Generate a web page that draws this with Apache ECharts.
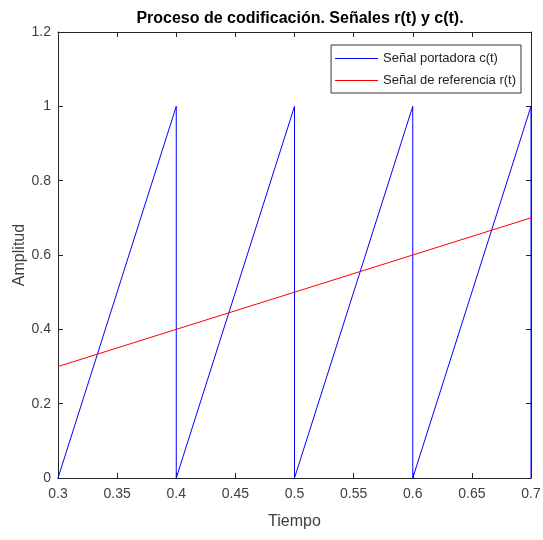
<!DOCTYPE html>
<html>
<head>
<meta charset="utf-8">
<script src="https://cdn.jsdelivr.net/npm/echarts@6/dist/echarts.min.js"></script>
<style>
html,body{margin:0;padding:0;background:#fff;}
#chart{width:543px;height:540px;}
</style>
</head>
<body>
<div id="chart"></div>
<script>
// Carrier sawtooth c(t): ramps 0 -> 1 each period of 0.1 s, then drops back to 0
const carrierT = [0.3, 0.4, 0.4, 0.5, 0.5, 0.6, 0.6, 0.7, 0.7];
const carrierV = [0, 1, 0, 1, 0, 1, 0, 1, 0];
// Reference ramp r(t)
const refT = [0.3, 0.7];
const refV = [0.3, 0.7];
// Axis tick labels
const xTicks = ['0.3', '0.35', '0.4', '0.45', '0.5', '0.55', '0.6', '0.65', '0.7'];
const yTicks = ['0', '0.2', '0.4', '0.6', '0.8', '1', '1.2'];

const seriesNames = ['Señal portadora c(t)', 'Señal de referencia r(t)'];
const font = 'Liberation Sans, Arial, sans-serif';
const labelColor = '#404040';
const axisColor = '#262626';

function pairs(t, v) { return t.map((x, i) => [x, v[i]]); }

const chart = echarts.init(document.getElementById('chart'), null, { renderer: 'canvas' });

const baseX = {
  type: 'value', min: 0.3, max: 0.7, interval: 0.05,
  axisLine: { show: true, onZero: false, lineStyle: { color: axisColor, width: 1 } },
  axisTick: { show: true, inside: true, length: 5, lineStyle: { color: axisColor } },
  splitLine: { show: false }
};
const baseY = {
  type: 'value', min: 0, max: 1.2, interval: 0.2,
  axisLine: { show: true, onZero: false, lineStyle: { color: axisColor, width: 1 } },
  axisTick: { show: true, inside: true, length: 5, lineStyle: { color: axisColor } },
  splitLine: { show: false }
};

chart.setOption({
  animation: false,
  backgroundColor: '#ffffff',
  title: {
    text: 'Proceso de codificación. Señales r(t) y c(t).',
    left: 295, top: 6, textAlign: 'center',
    textStyle: { fontFamily: font, fontSize: 16, fontWeight: 'bold', color: '#000' }
  },
  legend: {
    orient: 'vertical',
    right: 22, top: 45,
    padding: [7, 5, 6, 4],
    itemGap: 9,
    itemWidth: 43, itemHeight: 14,
    borderColor: '#333', borderWidth: 1,
    backgroundColor: '#fff',
    textStyle: { fontFamily: font, fontSize: 13, color: '#222' },
    data: seriesNames.map(n => ({ name: n, icon: 'path://M0,0 L43,0 L43,1 L0,1 Z' }))
  },
  grid: { left: 58, right: 12, top: 32, bottom: 62, containLabel: false, outerBoundsMode: 'none' },
  xAxis: [
    Object.assign({}, baseX, {
      position: 'bottom',
      name: 'Tiempo', nameLocation: 'middle', nameGap: 36, nameMoveOverlap: false,
      nameTextStyle: { fontFamily: font, fontSize: 16, color: labelColor },
      axisLabel: {
        margin: 9, fontFamily: font, fontSize: 14, color: labelColor,
        formatter: (v) => { const i = Math.round((v - 0.3) / 0.05); return xTicks[i] ?? ''; }
      }
    }),
    Object.assign({}, baseX, { position: 'top', axisLabel: { show: false } })
  ],
  yAxis: [
    Object.assign({}, baseY, {
      position: 'left',
      name: 'Amplitud', nameLocation: 'middle', nameGap: 30, nameMoveOverlap: false,
      nameTextStyle: { fontFamily: font, fontSize: 16, color: labelColor },
      axisLabel: {
        margin: 7, fontFamily: font, fontSize: 14, color: labelColor,
        formatter: (v) => { const i = Math.round(v / 0.2); return yTicks[i] ?? ''; }
      }
    }),
    Object.assign({}, baseY, { position: 'right', axisLabel: { show: false } })
  ],
  series: [
    {
      name: seriesNames[0], type: 'line', xAxisIndex: 0, yAxisIndex: 0,
      data: pairs(carrierT, carrierV),
      showSymbol: false, symbol: 'none',
      lineStyle: { color: '#0000ff', width: 1 }, itemStyle: { color: '#0000ff' },
      clip: false, z: 3
    },
    {
      name: seriesNames[1], type: 'line', xAxisIndex: 0, yAxisIndex: 0,
      data: pairs(refT, refV),
      showSymbol: false, symbol: 'none',
      lineStyle: { color: '#ff0000', width: 1 }, itemStyle: { color: '#ff0000' },
      clip: false, z: 3
    }
  ]
});
</script>
</body>
</html>
